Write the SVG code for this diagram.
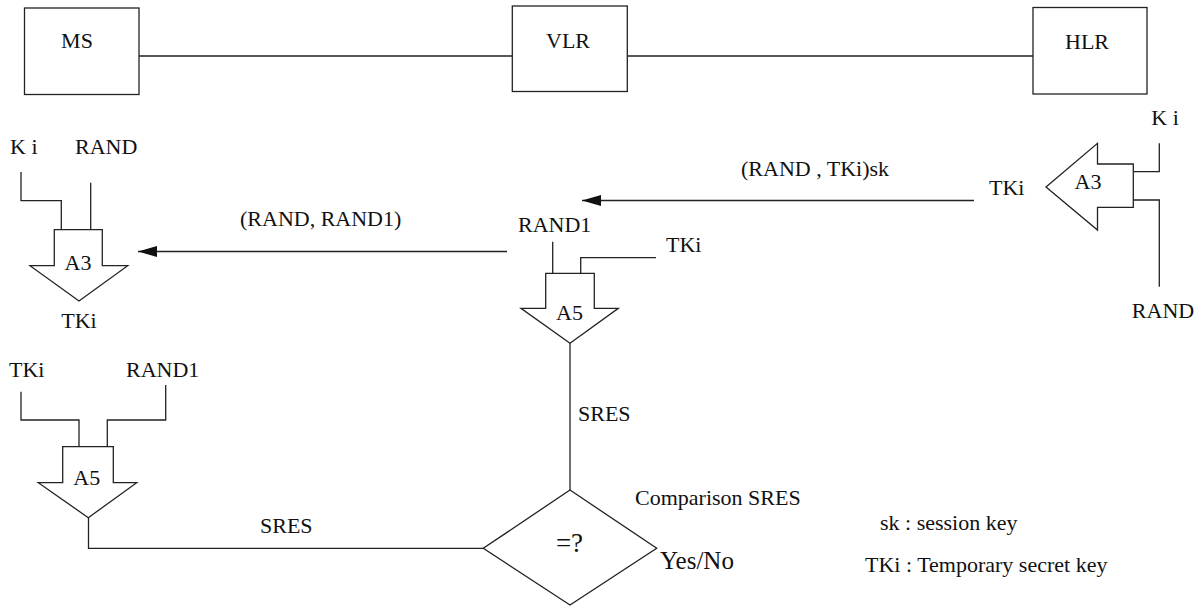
<svg xmlns="http://www.w3.org/2000/svg" width="1199" height="607" viewBox="0 0 1199 607">
  <style>
    .ln { fill: none; stroke: #222; stroke-width: 1.3; }
    .shape { fill: #fff; stroke: #222; stroke-width: 1.3; }
    text { font-family: "Liberation Serif", "Times New Roman", serif; font-size: 22px; fill: #111; }
    .mid { text-anchor: middle; }
  </style>
  <defs>
    <marker id="head" markerUnits="userSpaceOnUse" markerWidth="20" markerHeight="12" refX="19" refY="6" orient="auto">
      <path d="M0,0.5 L19,6 L0,11.5 Z" fill="#111"/>
    </marker>
  </defs>
  <rect width="1199" height="607" fill="#fff"/>

  <!-- network links and message flows -->
  <g id="connectors">
    <line class="ln" x1="139" y1="56" x2="512" y2="56"/>
    <line class="ln" x1="627" y1="56" x2="1033" y2="56"/>
    <line class="ln" x1="974" y1="200.5" x2="582" y2="200.5" marker-end="url(#head)"/>
    <line class="ln" x1="507" y1="251.5" x2="138" y2="251.5" marker-end="url(#head)"/>
    <text x="741" y="176">(RAND , TKi)sk</text>
    <text x="240" y="226">(RAND, RAND1)</text>
    <!-- SRES paths into the comparator -->
    <line class="ln" x1="570" y1="343" x2="570" y2="490"/>
    <polyline class="ln" points="88.5,517.5 88.5,548.3 483.3,548.3"/>
    <text x="578" y="421">SRES</text>
    <text x="260" y="533">SRES</text>
  </g>

  <!-- entities -->
  <g id="ms">
    <rect class="shape" x="24.5" y="8" width="114.5" height="86.5"/>
    <text class="mid" x="77" y="48">MS</text>
  </g>
  <g id="vlr">
    <rect class="shape" x="512.3" y="6" width="115" height="85.5"/>
    <text class="mid" x="568" y="48">VLR</text>
  </g>
  <g id="hlr">
    <rect class="shape" x="1033" y="7.5" width="114" height="86.5"/>
    <text class="mid" x="1087" y="49">HLR</text>
  </g>

  <!-- A3 at the MS -->
  <g id="ms-a3">
    <polyline class="ln" points="21,172 21,200.7 61.3,200.7 61.3,229.7"/>
    <line class="ln" x1="90.7" y1="182.7" x2="90.7" y2="229.7"/>
    <path class="shape" d="M54.3,229.7 H102.3 V265.7 H127.7 L79,301 L30,265.7 H54.3 Z"/>
    <text x="10" y="154">K i</text>
    <text x="75" y="154">RAND</text>
    <text class="mid" x="78" y="270">A3</text>
    <text class="mid" x="79" y="328">TKi</text>
  </g>

  <!-- A3 at the HLR -->
  <g id="hlr-a3">
    <polyline class="ln" points="1159.3,143.3 1159.3,171.7 1133.3,171.7"/>
    <polyline class="ln" points="1133.3,200 1159.3,200 1159.3,286.7"/>
    <path class="shape" d="M1133.3,164 V207.3 H1097.5 V230 L1046,187 L1097.5,143.3 V164 Z"/>
    <text class="mid" x="1165" y="125">K i</text>
    <text class="mid" x="1163" y="318">RAND</text>
    <text class="mid" x="1088" y="189">A3</text>
    <text x="989" y="195">TKi</text>
  </g>

  <!-- A5 at the VLR -->
  <g id="vlr-a5">
    <line class="ln" x1="552.7" y1="241.7" x2="552.7" y2="273.3"/>
    <polyline class="ln" points="656,257.7 580.7,257.7 580.7,273.3"/>
    <path class="shape" d="M545.7,273.3 H594.3 V308.3 H618.3 L570,343.3 L521,308.3 H545.7 Z"/>
    <text x="518" y="232">RAND1</text>
    <text x="666" y="252">TKi</text>
    <text class="mid" x="569.5" y="320">A5</text>
  </g>

  <!-- A5 at the MS -->
  <g id="ms-a5">
    <polyline class="ln" points="21,391.7 21,420 79,420 79,446.7"/>
    <polyline class="ln" points="165.7,385 165.7,420 107.3,420 107.3,446.7"/>
    <path class="shape" d="M62.7,446.7 H113.3 V482.7 H136.7 L88.3,517.7 L38.3,482.7 H62.7 Z"/>
    <text x="9" y="376.7">TKi</text>
    <text x="126" y="376.7">RAND1</text>
    <text class="mid" x="86.7" y="485">A5</text>
  </g>

  <!-- SRES comparator -->
  <g id="compare">
    <path class="shape" d="M570,490 L656.7,548.3 L570,605 L483.3,548.3 Z"/>
    <text class="mid" x="569.5" y="552" style="font-size:27px">=?</text>
    <text x="635" y="505">Comparison SRES</text>
    <text x="660" y="569" style="font-size:25px">Yes/No</text>
  </g>

  <!-- legend -->
  <g id="legend">
    <text x="880" y="530">sk : session key</text>
    <text x="865" y="572">TKi : Temporary secret key</text>
  </g>
</svg>
